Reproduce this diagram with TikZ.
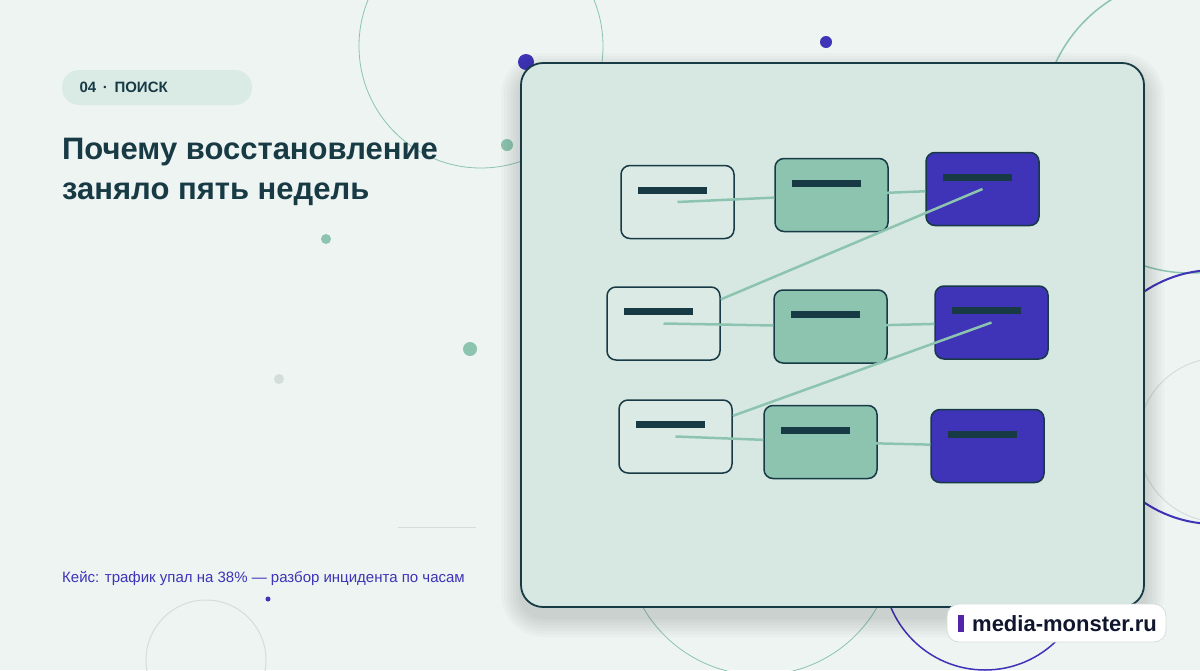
\documentclass[tikz,border=0pt]{standalone}
\usepackage{fontspec}
\setmainfont{Liberation Sans}
\definecolor{bg}{HTML}{EDF4F1}
\definecolor{panel}{HTML}{D7E8E3}
\definecolor{dark}{HTML}{173A45}
\definecolor{mint}{HTML}{8CC4B0}
\definecolor{lite}{HTML}{DCEAE5}
\definecolor{indi}{HTML}{3F33B8}
\definecolor{grayc}{HTML}{D5DDDA}
\begin{document}
\begin{tikzpicture}[x=1pt,y=-1pt,
 box/.style={draw=dark,line width=1.5pt,rounded corners=9pt,minimum width=113pt,minimum height=73pt,inner sep=0pt},
 bl/.style={box,fill=lite},bm/.style={box,fill=mint},bi/.style={box,fill=indi},
 bar/.style={path picture={\fill[dark,sharp corners] ([xshift=17pt,yshift=-21pt]path picture bounding box.north west) rectangle ++(69pt,-7pt);}},
 con/.style={draw=mint,line width=2.5pt},
 dot/.style={circle,inner sep=0pt,minimum size=#1}]
\useasboundingbox (0,0) rectangle (1200,670);
\fill[bg] (0,0) rectangle (1200,670);
% decorative circles
\draw[mint,line width=0.8pt] (481,46) circle (122);
\draw[mint,line width=1.5pt] (1190,125) circle (148);
\draw[indi,line width=2pt] (1215,397) circle (127);
\draw[grayc,line width=1pt] (1220,440) circle (82);
\draw[indi,line width=1.5pt] (985,568) circle (102);
\draw[mint,line width=0.8pt] (760,540) circle (135);
\draw[grayc,line width=1pt] (206,660) circle (60);
\draw[grayc,line width=0.8pt] (398,527) -- (476,527);
\node[dot=16pt,fill=indi] (d1) at (526,62) {};
\node[dot=12pt,fill=indi] (d2) at (826,42) {};
\node[dot=12pt,fill=mint] (d3) at (507,145) {};
\node[dot=10pt,fill=mint] (d4) at (326,239) {};
\node[dot=14pt,fill=mint] (d5) at (470,349) {};
\node[dot=10pt,fill=grayc] (d6) at (279,379) {};
\node[dot=5pt,fill=indi] (d7) at (268,599) {};
% header
\draw[fill=panel!85!bg,draw=none,rounded corners=17pt] (62,70) rectangle (252,105);
\node[anchor=west,text=dark,font=\bfseries\fontsize{15}{17}\selectfont] (tag) at (76,87) {04 \,·\, ПОИСК};
\node[anchor=north west,align=left,text=dark,font=\bfseries\fontsize{31}{40}\selectfont,inner sep=0pt] (title) at (62,138) {Почему восстановление\\заняло пять недель};
\node[anchor=base west,text=indi,font=\fontsize{15}{17}\selectfont,inner sep=0pt] (cap) at (62,582) {Кейс: трафик упал на 38\% — разбор инцидента по часам};
% panel shadow
\foreach \s in {2,5,8,11,14,17,20}
  \fill[black,opacity=0.018,rounded corners=22pt+\s pt] (521-\s,73-\s) rectangle (1144+\s,617+\s);
\draw[fill=panel,draw=dark,line width=1.8pt,rounded corners=22pt] (521,63) rectangle (1144,607);
% boxes
\node[bl,bar] (A1) at (677.5,202) {};
\node[bm,bar] (B1) at (831.5,195) {};
\node[bi,bar] (C1) at (982.5,189) {};
\node[bl,bar] (A2) at (663.5,323.5) {};
\node[bm,bar] (B2) at (830.5,326.5) {};
\node[bi,bar] (C2) at (991.5,322.5) {};
\node[bl,bar] (A3) at (675.5,436.5) {};
\node[bm,bar] (B3) at (820.5,442) {};
\node[bi,bar] (C3) at (987.5,446) {};
\path[con] (A1.center) -- (B1) (B1.center) -- (C1) (C1.center) -- (A2)
 (A2.center) -- (B2) (B2.center) -- (C2) (C2.center) -- (A3)
 (A3.center) -- (B3) (B3.center) -- (C3);
% watermark
\draw[fill=white,draw=grayc,line width=0.8pt,rounded corners=12pt] (947,604) rectangle (1166,642);
\fill[indi!70!violet] (958,615) rectangle (964,632);
\node[anchor=west,text=dark!60!indi!40!black,font=\bfseries\fontsize{22}{24}\selectfont,inner sep=0pt] (wm) at (972,624) {media-monster.ru};
\end{tikzpicture}
\end{document}
